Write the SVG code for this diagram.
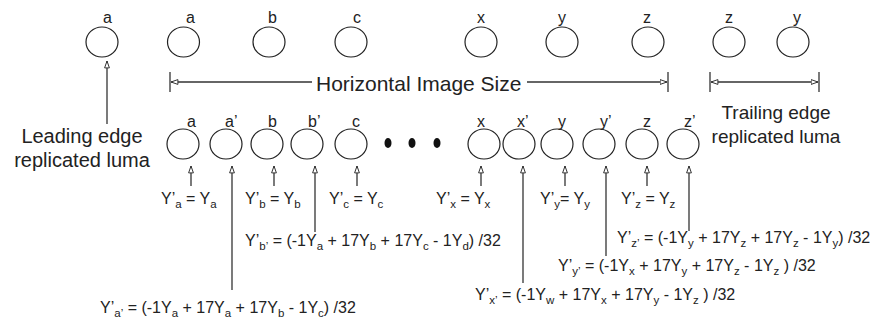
<svg xmlns="http://www.w3.org/2000/svg" width="875" height="320" viewBox="0 0 875 320">
<style>
text{font-family:"Liberation Sans",Arial,sans-serif;fill:#222}
.lbl{font-size:16px}
.big{font-size:20px}
.mid{font-size:19px}
.eq{font-size:16px}
.s{font-size:11.5px}
.node{fill:none;stroke:#222;stroke-width:1.2}
.dot{fill:#111}
.arr{stroke:#333;stroke-width:1.3;fill:none;marker-end:url(#oa)}
.dim{stroke:#333;stroke-width:1.3;fill:none}
</style>
<defs>
<marker id="oa" viewBox="0 0 8 6" refX="7.5" refY="3" markerWidth="8" markerHeight="6" markerUnits="userSpaceOnUse" orient="auto-start-reverse">
<path d="M0.6,0.6 L7.5,3 L0.6,5.4 Z" fill="#fff" stroke="#333" stroke-width="1"/>
</marker>
</defs>
<rect width="875" height="320" fill="#fff"/>

<g id="top-row">
<g id="t-a1"><ellipse class="node" cx="102" cy="42" rx="16" ry="15"/><text class="lbl" x="103" y="23">a</text></g>
<g id="t-a2"><ellipse class="node" cx="183.5" cy="42" rx="16" ry="15"/><text class="lbl" x="186" y="23">a</text></g>
<g id="t-b"><ellipse class="node" cx="269" cy="42" rx="16" ry="15"/><text class="lbl" x="268" y="23">b</text></g>
<g id="t-c"><ellipse class="node" cx="351" cy="42" rx="16" ry="15"/><text class="lbl" x="353" y="23">c</text></g>
<g id="t-x"><ellipse class="node" cx="481" cy="42" rx="16" ry="15"/><text class="lbl" x="477" y="23">x</text></g>
<g id="t-y"><ellipse class="node" cx="562" cy="42" rx="16" ry="15"/><text class="lbl" x="558" y="23">y</text></g>
<g id="t-z"><ellipse class="node" cx="648" cy="42" rx="16" ry="15"/><text class="lbl" x="643" y="23">z</text></g>
<g id="t-z2"><ellipse class="node" cx="729" cy="42" rx="16" ry="15"/><text class="lbl" x="725" y="23">z</text></g>
<g id="t-y2"><ellipse class="node" cx="793" cy="42" rx="16" ry="15"/><text class="lbl" x="793" y="23">y</text></g>
</g>

<g id="bottom-row">
<g id="b-a"><ellipse class="node" cx="183" cy="144" rx="16" ry="15"/><text class="lbl" x="187" y="127">a</text></g>
<g id="b-a1"><ellipse class="node" cx="226" cy="144" rx="16" ry="15"/><text class="lbl" x="225" y="127">a’</text></g>
<g id="b-b"><ellipse class="node" cx="267" cy="144" rx="16" ry="15"/><text class="lbl" x="268" y="127">b</text></g>
<g id="b-b1"><ellipse class="node" cx="307" cy="144" rx="16" ry="15"/><text class="lbl" x="308" y="127">b’</text></g>
<g id="b-c"><ellipse class="node" cx="351" cy="144" rx="16" ry="15"/><text class="lbl" x="352" y="127">c</text></g>
<g id="dots"><ellipse class="dot" cx="388" cy="143" rx="3.5" ry="5"/><ellipse class="dot" cx="412" cy="143" rx="3.5" ry="5"/><ellipse class="dot" cx="437" cy="143" rx="3.5" ry="5"/></g>
<g id="b-x"><ellipse class="node" cx="484" cy="144" rx="16" ry="15"/><text class="lbl" x="477" y="127">x</text></g>
<g id="b-x1"><ellipse class="node" cx="519" cy="144" rx="16" ry="15"/><text class="lbl" x="517" y="127">x’</text></g>
<g id="b-y"><ellipse class="node" cx="557" cy="144" rx="16" ry="15"/><text class="lbl" x="558" y="127">y</text></g>
<g id="b-y1"><ellipse class="node" cx="599" cy="144" rx="16" ry="15"/><text class="lbl" x="600" y="127">y’</text></g>
<g id="b-z"><ellipse class="node" cx="642" cy="144" rx="16" ry="15"/><text class="lbl" x="643" y="127">z</text></g>
<g id="b-z1"><ellipse class="node" cx="683" cy="144" rx="16" ry="15"/><text class="lbl" x="684" y="127">z’</text></g>
</g>

<g id="connectors">
<line class="arr" x1="107" y1="124" x2="107" y2="61"/>
<line class="dim" x1="170" y1="72" x2="170" y2="92"/>
<line class="dim" x1="312" y1="82" x2="171" y2="82" style="marker-end:url(#oa)"/>
<line class="dim" x1="527" y1="82" x2="667" y2="82" style="marker-end:url(#oa)"/>
<line class="dim" x1="668" y1="72" x2="668" y2="92"/>
<line class="dim" x1="710" y1="72" x2="710" y2="92"/>
<line class="dim" x1="819" y1="72" x2="819" y2="92"/>
<line class="dim" x1="711" y1="82" x2="818" y2="82" style="marker-start:url(#oa);marker-end:url(#oa)"/>
<line class="arr" x1="191" y1="186" x2="191" y2="166"/>
<line class="arr" x1="274" y1="186" x2="274" y2="166"/>
<line class="arr" x1="357" y1="186" x2="357" y2="166"/>
<line class="arr" x1="481" y1="186" x2="481" y2="166"/>
<line class="arr" x1="565" y1="186" x2="565" y2="166"/>
<line class="arr" x1="647" y1="186" x2="647" y2="166"/>
<line class="arr" x1="232" y1="290" x2="232" y2="166"/>
<line class="arr" x1="315" y1="232" x2="315" y2="166"/>
<line class="arr" x1="523" y1="283" x2="523" y2="166"/>
<line class="arr" x1="606" y1="256" x2="606" y2="166"/>
<line class="arr" x1="689" y1="231" x2="689" y2="166"/>
</g>

<g id="labels">
<text class="big" x="316" y="91" style="font-size:21px">Horizontal Image Size</text>
<text class="big" x="82" y="143" text-anchor="middle">Leading edge</text>
<text class="big" x="82" y="167" text-anchor="middle">replicated luma</text>
<text class="mid" x="776" y="119" text-anchor="middle">Trailing edge</text>
<text class="mid" x="776" y="143" text-anchor="middle">replicated luma</text>

<text class="eq" x="161" y="204">Y’<tspan class="s" dy="4">a</tspan><tspan dy="-4"> = Y</tspan><tspan class="s" dy="4">a</tspan></text>
<text class="eq" x="245" y="204">Y’<tspan class="s" dy="4">b</tspan><tspan dy="-4"> = Y</tspan><tspan class="s" dy="4">b</tspan></text>
<text class="eq" x="329" y="204">Y’<tspan class="s" dy="4">c</tspan><tspan dy="-4"> = Y</tspan><tspan class="s" dy="4">c</tspan></text>
<text class="eq" x="436" y="204">Y’<tspan class="s" dy="4">x</tspan><tspan dy="-4"> = Y</tspan><tspan class="s" dy="4">x</tspan></text>
<text class="eq" x="540" y="204">Y’<tspan class="s" dy="4">y</tspan><tspan dy="-4">= Y</tspan><tspan class="s" dy="4">y</tspan></text>
<text class="eq" x="621" y="204">Y’<tspan class="s" dy="4">z</tspan><tspan dy="-4"> = Y</tspan><tspan class="s" dy="4">z</tspan></text>

<text class="eq" x="245" y="246">Y’<tspan class="s" dy="4">b’</tspan><tspan dy="-4"> = (-1Y</tspan><tspan class="s" dy="4">a</tspan><tspan dy="-4"> + 17Y</tspan><tspan class="s" dy="4">b</tspan><tspan dy="-4"> + 17Y</tspan><tspan class="s" dy="4">c</tspan><tspan dy="-4"> - 1Y</tspan><tspan class="s" dy="4">d</tspan><tspan dy="-4">) /32</tspan></text>
<text class="eq" x="617" y="243">Y’<tspan class="s" dy="4">z’</tspan><tspan dy="-4"> = (-1Y</tspan><tspan class="s" dy="4">y</tspan><tspan dy="-4"> + 17Y</tspan><tspan class="s" dy="4">z</tspan><tspan dy="-4"> + 17Y</tspan><tspan class="s" dy="4">z</tspan><tspan dy="-4"> - 1Y</tspan><tspan class="s" dy="4">y</tspan><tspan dy="-4">) /32</tspan></text>
<text class="eq" x="558" y="271">Y’<tspan class="s" dy="4">y’</tspan><tspan dy="-4"> = (-1Y</tspan><tspan class="s" dy="4">x</tspan><tspan dy="-4"> + 17Y</tspan><tspan class="s" dy="4">y</tspan><tspan dy="-4"> + 17Y</tspan><tspan class="s" dy="4">z</tspan><tspan dy="-4"> - 1Y</tspan><tspan class="s" dy="4">z</tspan><tspan dy="-4"> ) /32</tspan></text>
<text class="eq" x="475" y="300">Y’<tspan class="s" dy="4">x’</tspan><tspan dy="-4"> = (-1Y</tspan><tspan class="s" dy="4">w</tspan><tspan dy="-4"> + 17Y</tspan><tspan class="s" dy="4">x</tspan><tspan dy="-4"> + 17Y</tspan><tspan class="s" dy="4">y</tspan><tspan dy="-4"> - 1Y</tspan><tspan class="s" dy="4">z</tspan><tspan dy="-4"> ) /32</tspan></text>
<text class="eq" x="100" y="313">Y’<tspan class="s" dy="4">a’</tspan><tspan dy="-4"> = (-1Y</tspan><tspan class="s" dy="4">a</tspan><tspan dy="-4"> + 17Y</tspan><tspan class="s" dy="4">a</tspan><tspan dy="-4"> + 17Y</tspan><tspan class="s" dy="4">b</tspan><tspan dy="-4"> - 1Y</tspan><tspan class="s" dy="4">c</tspan><tspan dy="-4">) /32</tspan></text>
</g>
</svg>
